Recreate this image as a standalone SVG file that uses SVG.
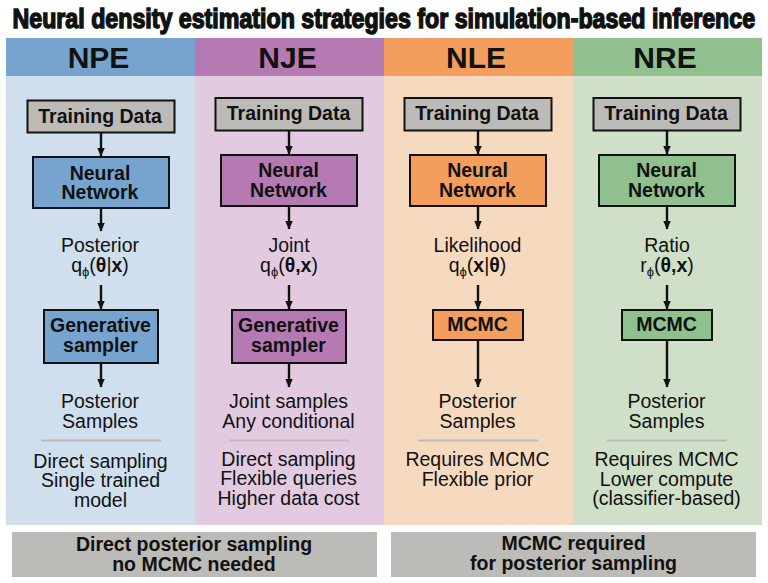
<svg xmlns="http://www.w3.org/2000/svg" width="768" height="583" viewBox="0 0 768 583">
<style>
text{font-family:"Liberation Sans",Arial,sans-serif;fill:#111;text-anchor:middle}
.t{font-size:19.5px}
.b{font-size:19.5px;font-weight:700}
.h{font-size:30px;font-weight:700}
.s{font-size:19.5px;font-weight:700}
.title{font-size:28px;font-weight:700;stroke:#111;stroke-width:1.5px;text-anchor:start}
.box{stroke:#111;stroke-width:2px}
.g{fill:#bdbbb7}
.c1{fill:#77a4cf}.c2{fill:#b57ab2}.c3{fill:#f39e5c}.c4{fill:#90c08e}
.l1{fill:#cfdfed}.l2{fill:#e2cbe0}.l3{fill:#f6dabf}.l4{fill:#cfdfc8}
.div{stroke:#bdbbb7;stroke-width:2px}
.arr{stroke:#111;stroke-width:2.4px;fill:none;marker-end:url(#ah)}
.sub{font-size:13px}
</style>
<defs>
<marker id="ah" markerUnits="userSpaceOnUse" markerWidth="10" markerHeight="9" refX="8.5" refY="4.5" orient="auto"><path d="M0 .5L9 4.5L0 8.5Z" fill="#111"/></marker>
</defs>
<rect width="768" height="583" fill="#fff"/>
<text id="title" class="title" transform="translate(12.5 27.500) scale(.78 1)" x="0" y="0" textLength="952" lengthAdjust="spacingAndGlyphs">Neural density estimation strategies for simulation-based inference</text>

<g id="col-npe">
<rect class="l1" x="6" y="76" width="189" height="449"/>
<rect class="c1" x="6" y="38" width="189" height="38"/>
<text class="h" x="98.500" y="67.500">NPE</text>
<line class="div" x1="41" y1="440.500" x2="161" y2="440.500"/>
</g>
<g id="col-nje">
<rect class="l2" x="195" y="76" width="189" height="449"/>
<rect class="c2" x="195" y="38" width="189" height="38"/>
<text class="h" x="287.500" y="67.500">NJE</text>
<line class="div" x1="229" y1="440.500" x2="349" y2="440.500"/>
</g>
<g id="col-nle">
<rect class="l3" x="384" y="76" width="189" height="449"/>
<rect class="c3" x="384" y="38" width="189" height="38"/>
<text class="h" x="476" y="67.500">NLE</text>
<line class="div" x1="418" y1="440.500" x2="538" y2="440.500"/>
</g>
<g id="col-nre">
<rect class="l4" x="573" y="76" width="189" height="449"/>
<rect class="c4" x="573" y="38" width="189" height="38"/>
<text class="h" x="665" y="67.500">NRE</text>
<line class="div" x1="607" y1="440.500" x2="727" y2="440.500"/>
</g>

<g id="connectors">
<line class="arr" x1="101" y1="133" x2="101" y2="156"/>
<line class="arr" x1="101" y1="208" x2="101" y2="231"/>
<line class="arr" x1="101" y1="285" x2="101" y2="309"/>
<line class="arr" x1="101" y1="363" x2="101" y2="387"/>
<line class="arr" x1="289" y1="131" x2="289" y2="154"/>
<line class="arr" x1="289" y1="206" x2="289" y2="229"/>
<line class="arr" x1="289" y1="285" x2="289" y2="309"/>
<line class="arr" x1="289" y1="363" x2="289" y2="387"/>
<line class="arr" x1="478" y1="131" x2="478" y2="154"/>
<line class="arr" x1="478" y1="206" x2="478" y2="229"/>
<line class="arr" x1="478" y1="285" x2="478" y2="309"/>
<line class="arr" x1="478" y1="340" x2="478" y2="387"/>
<line class="arr" x1="667" y1="131" x2="667" y2="154"/>
<line class="arr" x1="667" y1="206" x2="667" y2="229"/>
<line class="arr" x1="667" y1="285" x2="667" y2="309"/>
<line class="arr" x1="667" y1="340" x2="667" y2="387"/>
</g>

<g id="npe-train"><rect class="box g" x="27.500" y="100.500" width="147" height="32"/><text class="b" x="100" y="122.500">Training Data</text></g>
<g id="npe-net"><rect class="box c1" x="33" y="157" width="136" height="51"/><text class="b" x="100" y="180">Neural</text><text class="b" x="100" y="198.500">Network</text></g>
<g id="npe-dist"><text class="t" x="100" y="252">Posterior</text><text class="t" x="100" y="272">q<tspan class="sub" dy="4">ϕ</tspan><tspan dy="-4">(</tspan><tspan font-weight="700">θ</tspan>|<tspan font-weight="700">x</tspan>)</text></g>
<g id="npe-sampler"><rect class="box c1" x="44" y="310" width="114" height="53"/><text class="b" x="100.500" y="332">Generative</text><text class="b" x="100.500" y="352">sampler</text></g>
<g id="npe-out"><text class="t" x="100" y="408">Posterior</text><text class="t" x="100" y="428">Samples</text></g>
<g id="npe-notes"><text class="t" x="100.500" y="468">Direct sampling</text><text class="t" x="100.500" y="487">Single trained</text><text class="t" x="100.500" y="507">model</text></g>

<g id="nje-train"><rect class="box g" x="215.500" y="98" width="147" height="32.500"/><text class="b" x="288.500" y="119.500">Training Data</text></g>
<g id="nje-net"><rect class="box c2" x="221" y="155" width="136" height="51"/><text class="b" x="288.500" y="177">Neural</text><text class="b" x="288.500" y="196.500">Network</text></g>
<g id="nje-dist"><text class="t" x="289" y="252">Joint</text><text class="t" x="289" y="272">q<tspan class="sub" dy="4">ϕ</tspan><tspan dy="-4">(</tspan><tspan font-weight="700">θ,x</tspan>)</text></g>
<g id="nje-sampler"><rect class="box c2" x="232" y="310" width="114" height="53"/><text class="b" x="288.500" y="332">Generative</text><text class="b" x="288.500" y="352">sampler</text></g>
<g id="nje-out"><text class="t" x="288.500" y="408">Joint samples</text><text class="t" x="288.500" y="428">Any conditional</text></g>
<g id="nje-notes"><text class="t" x="288.500" y="466">Direct sampling</text><text class="t" x="288.500" y="485">Flexible queries</text><text class="t" x="288.500" y="505">Higher data cost</text></g>

<g id="nle-train"><rect class="box g" x="404.500" y="98" width="147" height="32.500"/><text class="b" x="477" y="119.500">Training Data</text></g>
<g id="nle-net"><rect class="box c3" x="410" y="155" width="136" height="51"/><text class="b" x="477.500" y="177">Neural</text><text class="b" x="477.500" y="196.500">Network</text></g>
<g id="nle-dist"><text class="t" x="477.500" y="252">Likelihood</text><text class="t" x="477.500" y="272">q<tspan class="sub" dy="4">ϕ</tspan><tspan dy="-4">(</tspan><tspan font-weight="700">x</tspan>|<tspan font-weight="700">θ</tspan>)</text></g>
<g id="nle-mcmc"><rect class="box c3" x="433" y="310" width="90" height="30"/><text class="b" x="477.500" y="331">MCMC</text></g>
<g id="nle-out"><text class="t" x="477.500" y="408">Posterior</text><text class="t" x="477.500" y="428">Samples</text></g>
<g id="nle-notes"><text class="t" x="477.500" y="466">Requires MCMC</text><text class="t" x="477.500" y="486">Flexible prior</text></g>

<g id="nre-train"><rect class="box g" x="593.500" y="98" width="147" height="32.500"/><text class="b" x="666" y="119.500">Training Data</text></g>
<g id="nre-net"><rect class="box c4" x="599" y="155" width="136" height="51"/><text class="b" x="666.500" y="177">Neural</text><text class="b" x="666.500" y="196.500">Network</text></g>
<g id="nre-dist"><text class="t" x="667" y="252">Ratio</text><text class="t" x="667" y="272">r<tspan class="sub" dy="4">ϕ</tspan><tspan dy="-4">(</tspan><tspan font-weight="700">θ,x</tspan>)</text></g>
<g id="nre-mcmc"><rect class="box c4" x="622" y="310" width="90" height="30"/><text class="b" x="666.500" y="331">MCMC</text></g>
<g id="nre-out"><text class="t" x="666.500" y="408">Posterior</text><text class="t" x="666.500" y="428">Samples</text></g>
<g id="nre-notes"><text class="t" x="666.500" y="466">Requires MCMC</text><text class="t" x="666.500" y="486">Lower compute</text><text class="t" x="666.500" y="505">(classifier-based)</text></g>

<g id="summary-left"><rect class="g" x="12" y="532" width="365" height="45"/><text class="s" x="194" y="551">Direct posterior sampling</text><text class="s" x="194" y="571">no MCMC needed</text></g>
<g id="summary-right"><rect class="g" x="391" y="532" width="365" height="45"/><text class="s" x="573.500" y="550">MCMC required</text><text class="s" x="573.500" y="569.500">for posterior sampling</text></g>
</svg>
